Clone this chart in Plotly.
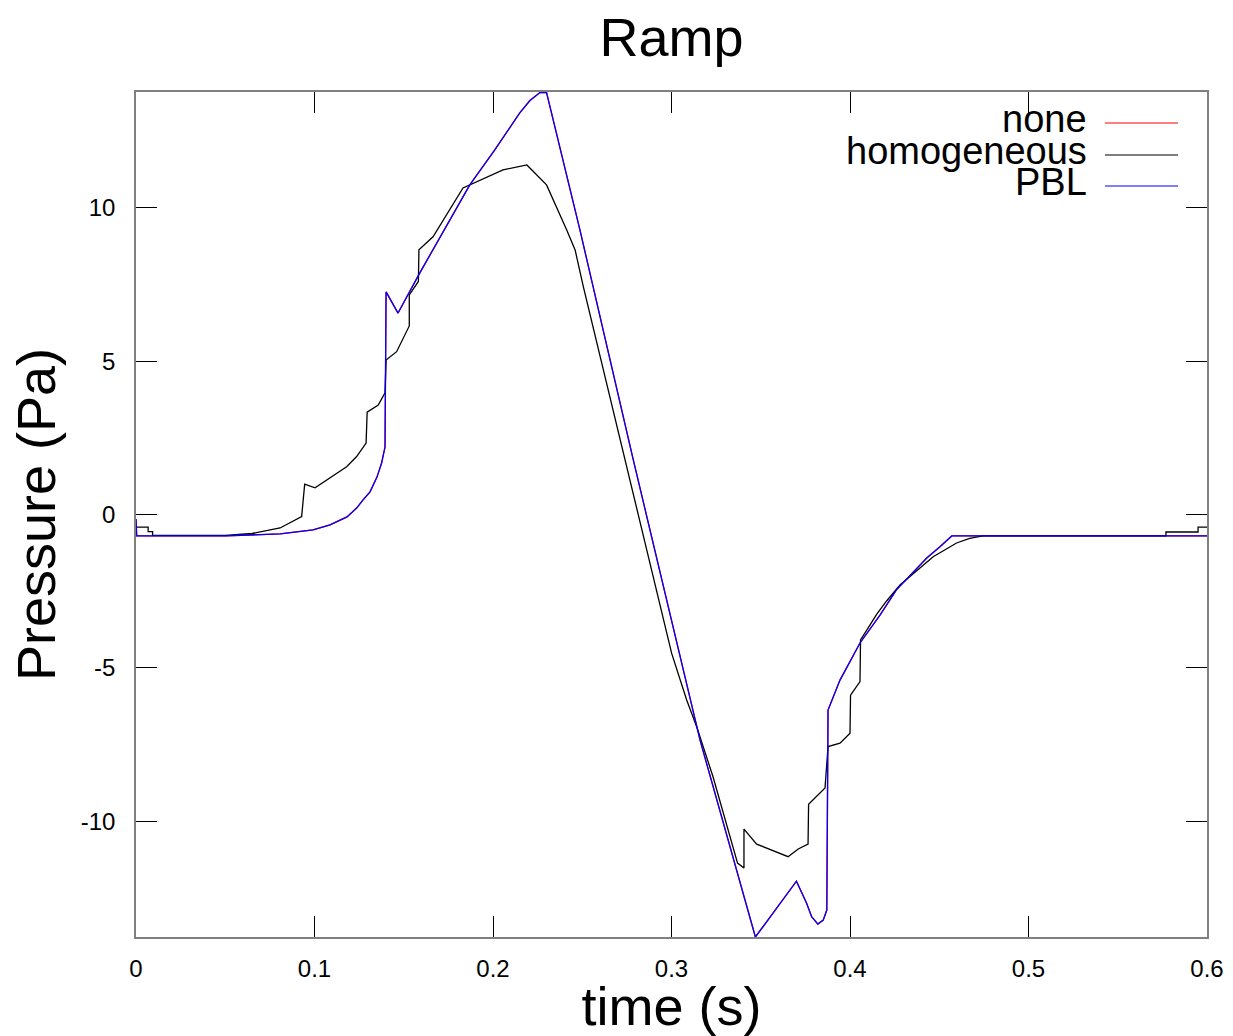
import plotly.graph_objects as go

# ---- data ----
none_t = [0, 0.0004, 0.05, 0.0807, 0.0992, 0.1087, 0.1182, 0.1236, 0.1271, 0.1311, 0.1350,
          0.1376, 0.1395, 0.1401, 0.1468, 0.159, 0.187, 0.2011, 0.215, 0.2207, 0.2263, 0.230, 0.2487,
          0.2786, 0.316, 0.347, 0.370, 0.3757, 0.3785, 0.382, 0.385, 0.387, 0.3877, 0.3944,
          0.4056, 0.4168, 0.426, 0.4355, 0.443, 0.4504, 0.457, 0.6]
none_p = [-0.15, -0.70, -0.70, -0.63, -0.50, -0.34, -0.08, 0.21, 0.47, 0.74, 1.22,
          1.68, 2.20, 7.26, 6.57, 7.88, 10.75, 11.90, 13.10, 13.50, 13.76, 13.76, 9.28,
          1.78, -7.36, -13.78, -11.96, -12.68, -13.12, -13.36, -13.23, -12.90, -6.38, -5.40,
          -4.19, -3.28, -2.46, -1.87, -1.42, -1.05, -0.70, -0.70]

pbl_t = list(none_t)
pbl_p = list(none_p)

homo_t = [0, 0.0068, 0.0068, 0.0093, 0.0093, 0.05, 0.065, 0.0807, 0.0928, 0.0945, 0.1003,
          0.1087, 0.118, 0.1236, 0.1289, 0.1295, 0.1357, 0.1395, 0.1401, 0.146, 0.1531, 0.1531, 0.1582,
          0.1585, 0.1664, 0.1832, 0.2056, 0.219, 0.230, 0.2413, 0.246, 0.2506, 0.2739,
          0.2777, 0.3001, 0.3085, 0.3141, 0.3233, 0.337, 0.3406, 0.3406, 0.3477, 0.3589,
          0.3653, 0.371, 0.3765, 0.3768, 0.386, 0.3877, 0.3944, 0.400, 0.4003, 0.4056,
          0.4059, 0.4093, 0.415, 0.4205, 0.428, 0.4466, 0.4597, 0.467, 0.4745, 0.577, 0.577,
          0.595, 0.595, 0.6]
homo_p = [-0.41, -0.41, -0.56, -0.56, -0.68, -0.68, -0.62, -0.44, -0.07, 0.99, 0.87,
          1.21, 1.56, 1.89, 2.33, 3.34, 3.57, 3.97, 5.04, 5.31, 6.15, 7.16, 7.60,
          8.63, 9.06, 10.65, 11.24, 11.40, 10.75, 9.28, 8.63, 7.43, 1.78,
          0.80, -4.53, -6.05, -6.92, -8.56, -11.37, -11.53, -10.26, -10.75, -11.00,
          -11.16, -10.91, -10.75, -9.45, -8.92, -7.57, -7.46, -7.13, -5.89, -5.45,
          -4.09, -3.78, -3.25, -2.82, -2.30, -1.38, -0.93, -0.78, -0.70, -0.70, -0.57,
          -0.57, -0.41, -0.41]

x_ticks = [0, 0.1, 0.2, 0.3, 0.4, 0.5, 0.6]
x_ticklabels = ["0", "0.1", "0.2", "0.3", "0.4", "0.5", "0.6"]
y_ticks = [-10, -5, 0, 5, 10]
y_ticklabels = ["-10", "-5", "0", "5", "10"]

series_names = ["none", "homogeneous", "PBL"]
series_colors = ["#ff0000", "#000000", "#0000ff"]

W, H = 1233, 1036
L, R, T, B = 136, 1207, 92, 937
FONT = "Liberation Sans, Arial, sans-serif"

fig = go.Figure()
for name, t, p, c in zip(series_names, [none_t, homo_t, pbl_t], [none_p, homo_p, pbl_p], series_colors):
    fig.add_trace(go.Scatter(x=t, y=p, mode="lines", name=name,
                             line=dict(color=c, width=1.3), showlegend=False))

axis_common = dict(showline=True, linecolor="#808080", linewidth=1.5, mirror="allticks",
                   ticks="inside", ticklen=21, tickcolor="#000000", tickwidth=1,
                   showgrid=False, zeroline=False, automargin=False,
                   tickfont=dict(family=FONT, size=24, color="#000000"))

fig.update_xaxes(range=[0, 0.6], tickvals=x_ticks, ticktext=x_ticklabels,
                 ticklabelstandoff=9,
                 title=dict(text="time (s)", font=dict(family=FONT, size=54, color="#000000"), standoff=3),
                 **axis_common)
fig.update_yaxes(range=[-13.78, 13.78], tickvals=y_ticks, ticktext=y_ticklabels,
                 ticklabelstandoff=14,
                 title=dict(text="Pressure (Pa)", font=dict(family=FONT, size=54, color="#000000"), standoff=8),
                 **axis_common)

# custom legend (text right-aligned, short line samples)
def px_x(px):
    return (px - L) / (R - L)

def px_y(py):
    return (B - py) / (B - T)

legend_line_y = [123, 155, 186]
shapes = []
annotations = []
for name, c, ly in zip(series_names, series_colors, legend_line_y):
    annotations.append(dict(xref="paper", yref="paper", x=px_x(1089), y=px_y(ly - 4),
                            xanchor="right", yanchor="middle", showarrow=False, text=name,
                            font=dict(family=FONT, size=38, color="#000000")))
    shapes.append(dict(type="line", xref="paper", yref="paper",
                       x0=px_x(1105), x1=px_x(1178), y0=px_y(ly), y1=px_y(ly),
                       line=dict(color=c, width=1.2)))

fig.update_layout(
    width=W, height=H,
    margin=dict(l=L, r=W - R, t=T, b=H - B, autoexpand=False),
    paper_bgcolor="white", plot_bgcolor="white",
    title=dict(text="Ramp", x=0.5 * (L + R) / W, xanchor="center", y=1 - 37 / H, yanchor="middle",
               font=dict(family=FONT, size=54, color="#000000")),
    shapes=shapes, annotations=annotations,
)

fig.write_html("out.html")
